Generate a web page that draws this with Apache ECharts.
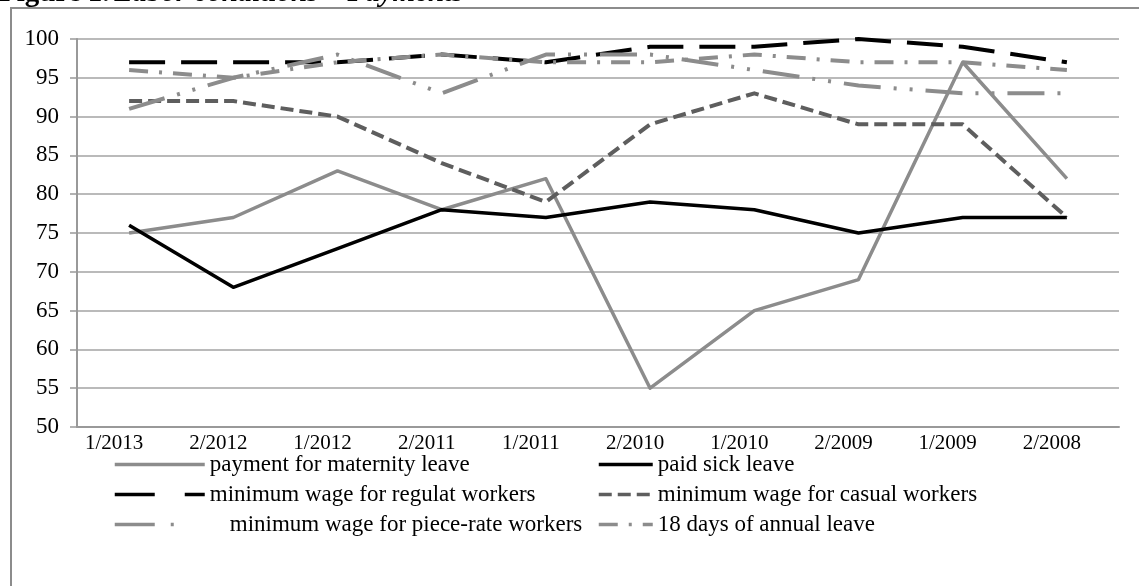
<!DOCTYPE html>
<html>
<head>
<meta charset="utf-8">
<script src="https://cdn.jsdelivr.net/npm/echarts@6/dist/echarts.min.js"></script>
<style>
  html, body { margin: 0; padding: 0; background: #fff; }
  #chart { width: 1139px; height: 586px; }
</style>
</head>
<body>
<div id="chart"></div>
<script>
// Survey rounds (newest first) and the share of factories compliant, in percent
const periods = ['1/2013', '2/2012', '1/2012', '2/2011', '1/2011', '2/2010', '1/2010', '2/2009', '1/2009', '2/2008'];
const maternityPay = [75, 77, 83, 78, 82, 55, 65, 69, 97, 82];
const paidSickLeave = [76, 68, 73, 78, 77, 79, 78, 75, 77, 77];
const minWageRegular = [97, 97, 97, 98, 97, 99, 99, 100, 99, 97];
const minWageCasual = [92, 92, 90, 84, 79, 89, 93, 89, 89, 77];
const minWagePieceRate = [91, 95, 98, 93, 98, 98, 96, 94, 93, 93];
const annualLeave18 = [96, 95, 97, 98, 97, 97, 98, 97, 97, 96];
const yTicks = [50, 55, 60, 65, 70, 75, 80, 85, 90, 95, 100];

const FONT = '"Liberation Serif", "Times New Roman", serif';
const GRAY = '#8c8c8c';
const DARK = '#5e5e5e';

function lineSeries(name, data, color, width, dash) {
  return {
    name: name,
    type: 'line',
    data: data,
    symbol: 'none',
    showSymbol: false,
    smooth: false,
    z: 3,
    lineStyle: { color: color, width: width, type: dash, cap: 'butt', join: 'round' },
    itemStyle: { color: color },
    emphasis: { disabled: true }
  };
}

const chart = echarts.init(document.getElementById('chart'), null, { renderer: 'canvas' });

const legendText = {
  fontFamily: FONT, fontSize: 23, color: '#000',
  rich: { gap: { width: 20 } }
};
const legendBase = {
  orient: 'vertical',
  top: 453,
  padding: 0,
  itemHeight: 14,
  itemGap: 7,
  textStyle: legendText,
  selectedMode: false,
  itemStyle: { opacity: 0 },
  lineStyle: { width: 3.5 }
};

chart.setOption({
  animation: false,
  backgroundColor: '#fff',
  title: {
    left: -1,
    top: -21,
    padding: 0,
    text: '{b|Figure 1.} {i|Labor conditions – Payments}',
    textStyle: {
      rich: {
        b: { fontFamily: FONT, fontSize: 29, fontWeight: 'bold', color: '#000' },
        i: { fontFamily: FONT, fontSize: 29, fontStyle: 'italic', fontWeight: 'bold', color: '#000' }
      }
    }
  },
  graphic: [{
    type: 'rect',
    shape: { x: 11, y: 8, width: 1400, height: 800 },
    style: { fill: 'none', stroke: GRAY, lineWidth: 2 },
    silent: true,
    z: -1
  }],
  grid: { left: 77, right: 20, top: 39, bottom: 159, containLabel: false },
  xAxis: {
    type: 'category',
    data: periods,
    boundaryGap: true,
    axisLine: { show: true, lineStyle: { color: '#999', width: 2 } },
    axisTick: { show: false },
    axisLabel: { fontFamily: FONT, fontSize: 21, color: '#000', margin: 6, padding: [0, 30, 0, 0] }
  },
  yAxis: {
    type: 'value',
    min: yTicks[0],
    max: yTicks[yTicks.length - 1],
    interval: 5,
    axisLine: { show: true, lineStyle: { color: '#999', width: 2 } },
    axisTick: { show: true, length: 7, lineStyle: { color: '#999', width: 1.5 } },
    axisLabel: { fontFamily: FONT, fontSize: 23, color: '#000', margin: 18 },
    splitLine: { show: true, lineStyle: { color: '#a3a3a3', width: 1.5 } }
  },
  legend: [
    Object.assign({}, legendBase, {
      left: 113,
      itemWidth: 90,
      formatter: function (name) {
        return name.indexOf('piece-rate') >= 0 ? '{gap|}' + name : name;
      },
      data: [
        { name: 'payment for maternity leave' },
        { name: 'minimum wage for regulat workers', lineStyle: { type: [40, 30] } },
        { name: 'minimum wage for piece-rate workers', lineStyle: { type: [40, 16, 3, 60] } }
      ]
    }),
    Object.assign({}, legendBase, {
      left: 597,
      itemWidth: 54,
      data: ['paid sick leave', 'minimum wage for casual workers', '18 days of annual leave']
    })
  ],
  series: [
    lineSeries('payment for maternity leave', maternityPay, GRAY, 3.5, 'solid'),
    lineSeries('paid sick leave', paidSickLeave, '#000', 3.5, 'solid'),
    lineSeries('minimum wage for regulat workers', minWageRegular, '#000', 4, [36, 16]),
    lineSeries('minimum wage for casual workers', minWageCasual, DARK, 4, [13, 6]),
    lineSeries('minimum wage for piece-rate workers', minWagePieceRate, GRAY, 4, [37, 13, 3, 13, 3, 13]),
    lineSeries('18 days of annual leave', annualLeave18, GRAY, 4, [19, 11, 3, 11])
  ]
});
</script>
</body>
</html>
